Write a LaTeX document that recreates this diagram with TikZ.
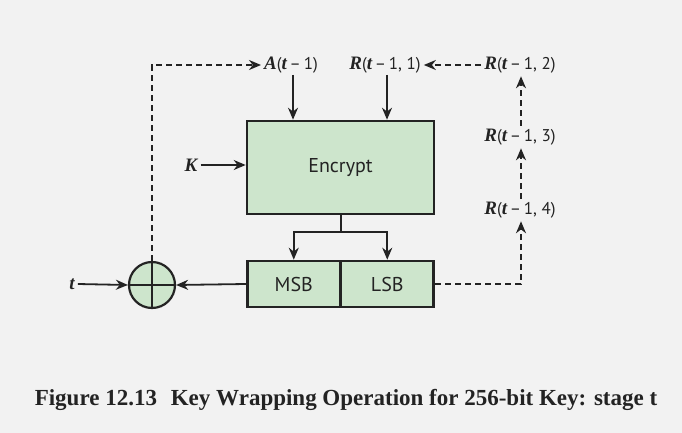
\documentclass[tikz,border=0pt]{standalone}
\usepackage{fontspec}
\setmainfont{Liberation Serif}
\setsansfont{PT Sans}
\usetikzlibrary{arrows.meta}

\definecolor{bggray}{RGB}{242,242,242}
\definecolor{boxgreen}{RGB}{205,229,204}
\definecolor{ink}{RGB}{35,35,35}

\tikzset{
  blk/.style={draw=ink, line width=2.6pt, fill=boxgreen, inner sep=0pt,
    font=\sffamily\fontsize{20}{24}\selectfont, text=ink},
  arr/.style={-{Stealth[length=12pt,width=10pt]}, line width=1.8pt, draw=ink},
  darr/.style={arr, dash pattern=on 6pt off 4pt},
  lbl/.style={font=\sffamily\fontsize{17}{20}\selectfont, text=ink, inner sep=3pt},
}
\newcommand{\bv}[1]{{\rmfamily\bfseries\itshape\fontsize{19}{20}\selectfont #1}}

\begin{document}
\begin{tikzpicture}[x=1pt,y=-1pt]
        \fill[bggray] (0,0) rectangle (682,433);
        \useasboundingbox (0,0) rectangle (682,433);

        % blocks
        \node[blk, minimum width=187pt, minimum height=93pt] (enc) at (340.5,167.5) {Encrypt};
        \node[blk, minimum width=93pt, minimum height=46pt] (msb) at (293.75,284) {MSB};
        \node[blk, minimum width=93pt, minimum height=46pt] (lsb) at (387.25,284) {LSB};
        \node[circle, draw=ink, line width=2.2pt, fill=boxgreen, minimum size=46pt] (xor) at (152,285) {};
        \draw[ink, line width=2.2pt] (xor.north) -- (xor.south);
        \draw[ink, line width=2.2pt] (xor.west) -- (xor.east);

        % labels
        \node[lbl] (a) at (291,65) {\bv{A}(\bv{t}\,–\,1)};
        \node[lbl] (r1) at (385,65) {\bv{R}(\bv{t}\,–\,1, 1)};
        \node[lbl] (r2) at (520,65) {\bv{R}(\bv{t}\,–\,1, 2)};
        \node[lbl] (r3) at (520,137) {\bv{R}(\bv{t}\,–\,1, 3)};
        \node[lbl] (r4) at (520,210) {\bv{R}(\bv{t}\,–\,1, 4)};
        \node[lbl] (k) at (191,165) {\bv{K}};
        \node[lbl] (t) at (72,284) {\bv{t}};

        % inputs
        \draw[arr] (293,75) coordinate (ain) -- (ain |- enc.north);
        \draw[arr] (387,75) coordinate (rin) -- (rin |- enc.north);
        \draw[arr] (k.east) -- (k.east -| enc.west);
        \draw[arr] (t.east) -- (xor.west);
        \draw[arr] (msb.west) -- (xor.east);

        % split of the output
        \draw[ink, line width=2pt] (enc.south) -- ++(0,17) coordinate (split);
        \draw[arr] (split) -| (msb.north);
        \draw[arr] (split) -| (lsb.north);

        % feedback
        \draw[darr] (xor.north) |- (a.west);
        \draw[darr] (r2.west) -- (r1.east);
        \draw[darr] (r3.north -| 521,0) -- (r2.south -| 521,0);
        \draw[darr] (r4.north -| 521,0) -- (r3.south -| 521,0);
        \draw[darr] (lsb.east) -| (r4.south -| 521,0);

        \node[font=\bfseries\fontsize{23}{27}\selectfont, text=ink] (caption) at (346,400)
          {Figure 12.13\hspace{0.6em}Key Wrapping Operation for 256-bit Key: stage t};
\end{tikzpicture}
\end{document}
